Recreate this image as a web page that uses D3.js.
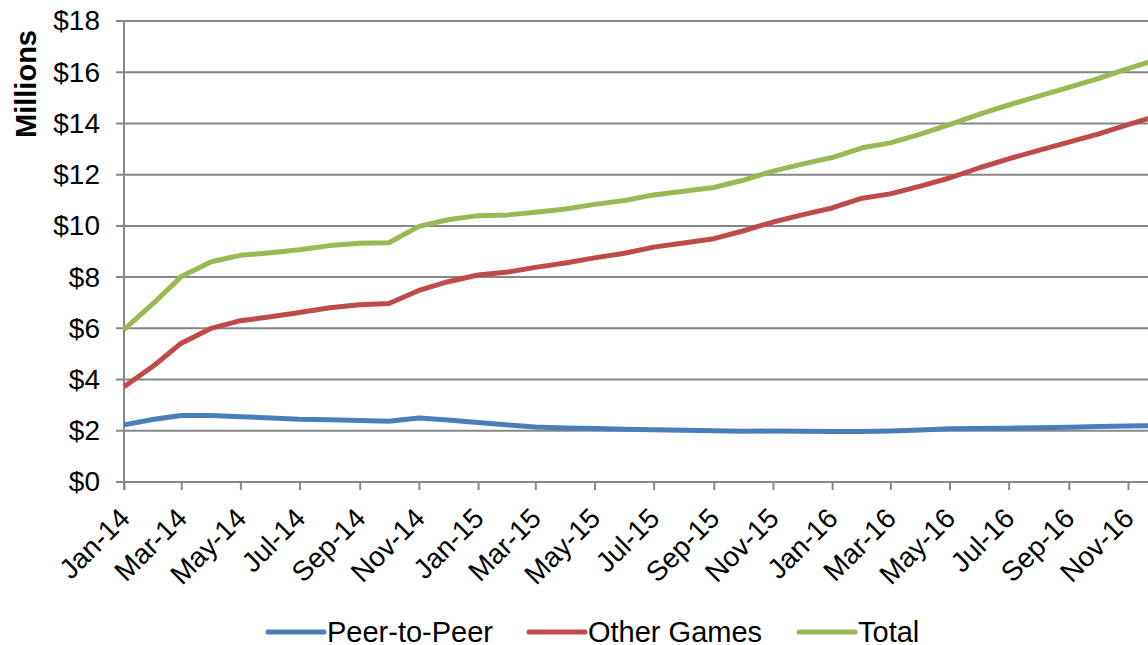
<!DOCTYPE html>
<html>
<head>
<meta charset="utf-8">
<script src="https://cdn.jsdelivr.net/npm/d3@7"></script>
<style>
  html, body { margin: 0; padding: 0; background: #fff; }
  svg { display: block; font-family: "Liberation Sans", Arial, sans-serif; }
</style>
</head>
<body>
<div id="chart"></div>
<script>
// Data (monthly, $ millions)
const months = [
    "2014-01", "2014-02", "2014-03", "2014-04", "2014-05", "2014-06", "2014-07", "2014-08", "2014-09", "2014-10", "2014-11", "2014-12",
    "2015-01", "2015-02", "2015-03", "2015-04", "2015-05", "2015-06", "2015-07", "2015-08", "2015-09", "2015-10", "2015-11", "2015-12",
    "2016-01", "2016-02", "2016-03", "2016-04", "2016-05", "2016-06", "2016-07", "2016-08", "2016-09", "2016-10", "2016-11", "2016-12"
];
const peerToPeer = [
    2.23, 2.45, 2.60, 2.60, 2.55, 2.50, 2.45, 2.43, 2.40, 2.37, 2.50, 2.42,
    2.32, 2.23, 2.15, 2.11, 2.09, 2.06, 2.04, 2.02, 2.00, 1.98, 1.99, 1.98,
    1.97, 1.97, 1.99, 2.03, 2.08, 2.09, 2.10, 2.12, 2.14, 2.17, 2.19, 2.20
];
const otherGames = [
    3.72, 4.55, 5.42, 6.00, 6.30, 6.45, 6.62, 6.80, 6.92, 6.97, 7.48, 7.82,
    8.08, 8.20, 8.38, 8.55, 8.75, 8.93, 9.17, 9.33, 9.50, 9.80, 10.15, 10.43,
    10.70, 11.08, 11.25, 11.55, 11.87, 12.27, 12.62, 12.95, 13.27, 13.58, 13.95, 14.30
];
const total = [
    5.95, 7.00, 8.02, 8.60, 8.85, 8.95, 9.07, 9.23, 9.32, 9.34, 9.98, 10.24,
    10.40, 10.43, 10.53, 10.66, 10.84, 10.99, 11.21, 11.35, 11.50, 11.78, 12.14, 12.41,
    12.67, 13.05, 13.24, 13.58, 13.95, 14.36, 14.72, 15.07, 15.41, 15.75, 16.14, 16.50
];
const yTicks = [0, 2, 4, 6, 8, 10, 12, 14, 16, 18];
const seriesNames = ["Peer-to-Peer", "Other Games", "Total"];

const colors = {
    "Peer-to-Peer": "#4A7EBB",
    "Other Games": "#BE4B48",
    "Total": "#98B954"
};

const W = 1148, H = 645;
const FONT = 28;
const parse = d3.utcParse("%Y-%m");
const dates = months.map(parse);
const series = [
    { name: seriesNames[0], values: peerToPeer },
    { name: seriesNames[1], values: otherGames },
    { name: seriesNames[2], values: total }
];

const svg = d3.select("#chart").append("svg")
    .attr("width", W)
    .attr("height", H);

// plot area runs past the right edge of the picture (Dec-16 is clipped)
const x = d3.scaleUtc()
    .domain([parse("2014-01"), parse("2016-11")])
    .range([124, 1128]);
const y = d3.scaleLinear()
    .domain([0, 18])
    .range([482, 21]);

const gridColor = "#878787";

// gridlines
svg.append("g")
    .selectAll("line")
    .data(yTicks)
    .join("line")
    .attr("x1", 116)
    .attr("x2", W)
    .attr("y1", d => y(d))
    .attr("y2", d => y(d))
    .attr("stroke", gridColor)
    .attr("stroke-width", 2);

// y axis
const yAxis = svg.append("g")
    .attr("transform", "translate(124,0)")
    .call(d3.axisLeft(y).tickValues(yTicks).tickSize(0).tickPadding(24).tickFormat(d => "$" + d));
yAxis.select(".domain").remove();
yAxis.append("line")
    .attr("y1", y(18)).attr("y2", y(0) + 8)
    .attr("stroke", gridColor).attr("stroke-width", 2);
yAxis.selectAll("text")
    .attr("fill", "#000")
    .attr("font-size", FONT)
    .attr("font-family", "Liberation Sans, Arial, sans-serif");

svg.append("text")
    .attr("transform", "translate(36,84) rotate(-90)")
    .attr("text-anchor", "middle")
    .attr("font-size", 29)
    .attr("font-weight", "bold")
    .text("Millions");

// x axis
const xTickDates = dates.filter((d, i) => i % 2 === 0);
const fmt = d3.utcFormat("%b-%y");
const xAxis = svg.append("g")
    .attr("transform", `translate(0,${y(0)})`)
    .call(d3.axisBottom(x).tickValues(xTickDates).tickSize(8).tickFormat(fmt));
xAxis.select(".domain").remove();
xAxis.selectAll(".tick line").attr("stroke", gridColor).attr("stroke-width", 2);
xAxis.selectAll("text")
    .attr("fill", "#000")
    .attr("font-size", FONT)
    .attr("font-family", "Liberation Sans, Arial, sans-serif")
    .attr("text-anchor", "end")
    .attr("dy", null)
    .attr("y", null)
    .attr("transform", "translate(7,38) rotate(-45)");

// lines
const line = d3.line()
    .x((d, i) => x(dates[i]))
    .y(d => y(d));

svg.append("g")
    .selectAll("path")
    .data(series)
    .join("path")
    .attr("d", d => line(d.values))
    .attr("fill", "none")
    .attr("stroke", d => colors[d.name])
    .attr("stroke-width", 5)
    .attr("stroke-linejoin", "round");

// legend
const legendX = [268, 529, 799];
const legend = svg.append("g")
    .selectAll("g")
    .data(seriesNames)
    .join("g")
    .attr("transform", (d, i) => `translate(${legendX[i]},632)`);
legend.append("line")
    .attr("x1", 0).attr("x2", 56)
    .attr("stroke", d => colors[d])
    .attr("stroke-width", 5)
    .attr("stroke-linecap", "round");
legend.append("text")
    .attr("x", 59)
    .attr("y", 10)
    .attr("font-size", FONT + 1)
    .text(d => d);
</script>
</body>
</html>
